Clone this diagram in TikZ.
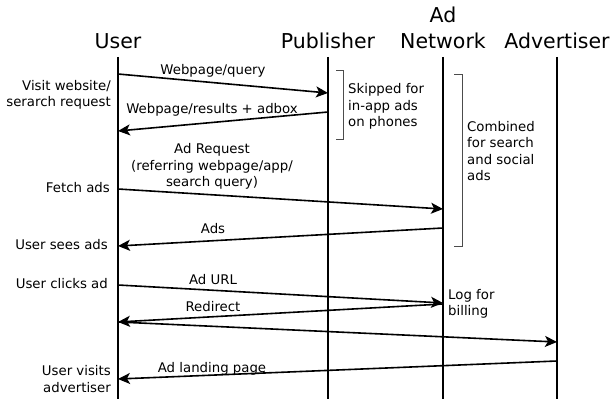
\documentclass[tikz,border=0pt]{standalone}
\usepackage{fontspec}
\setmainfont{DejaVu Sans}
\usetikzlibrary{arrows.meta}
\begin{document}
\begin{tikzpicture}[x=1pt,y=-1pt,
  head/.style={font=\fontsize{20.5}{26}\selectfont, inner sep=0pt, anchor=base},
  lbl/.style={font=\fontsize{13.3}{16.6}\selectfont, inner sep=0pt},
  life/.style={line width=1.8pt},
  msg/.style={line width=1.6pt, -{Stealth[length=12pt,width=11pt,inset=3pt]}},
  brk/.style={line width=0.9pt, draw=black!70}]
\useasboundingbox[fill=white] (0,0) rectangle (613,403);

% headers
\node[head] (hU) at (118,49) {User};
\node[head] (hP) at (328,49) {Publisher};
\node[head] (hA1) at (443,23) {Ad};
\node[head] (hA2) at (443,49) {Network};
\node[head] (hV) at (557,49) {Advertiser};

% lifelines
\coordinate (uT) at (118,57); \coordinate (uB) at (118,399);
\coordinate (pT) at (328,57); \coordinate (pB) at (328,399);
\coordinate (aT) at (443,57); \coordinate (aB) at (443,399);
\coordinate (vT) at (557,57); \coordinate (vB) at (557,399);
\draw[life] (uT) -- (uB);
\draw[life] (pT) -- (pB);
\draw[life] (aT) -- (aB);
\draw[life] (vT) -- (vB);

% message end points
\coordinate (u1) at (118,74);  \coordinate (p1) at (328,93);
\coordinate (p2) at (328,112); \coordinate (u2) at (118,131);
\coordinate (u3) at (118,189); \coordinate (a3) at (443,209);
\coordinate (a4) at (443,228); \coordinate (u4) at (118,246);
\coordinate (u5) at (118,285); \coordinate (a5) at (443,303);
\coordinate (a6) at (443,304); \coordinate (u6) at (118,322);
\coordinate (u7) at (118,322); \coordinate (v7) at (557,342);
\coordinate (v8) at (557,361); \coordinate (u8) at (118,379);

\draw[msg] (u1) -- (p1);
\draw[msg] (p2) -- (u2);
\draw[msg] (u3) -- (a3);
\draw[msg] (a4) -- (u4);
\draw[msg] (u5) -- (a5);
\draw[msg] (a6) -- (u6);
\draw[msg] (u7) -- (v7);
\draw[msg] (v8) -- (u8);

% message labels
\node[lbl, anchor=base] (m1) at (213,75) {Webpage/query};
\node[lbl, anchor=base] (m2) at (212,114) {Webpage/results + adbox};
\node[lbl, anchor=base, align=center] (m3) at (212,187) {Ad Request\\(referring webpage/app/\\search query)};
\node[lbl, anchor=base] (m4) at (213,234) {Ads};
\node[lbl, anchor=base] (m5) at (213,285) {Ad URL};
\node[lbl, anchor=base] (m6) at (213,312) {Redirect};
\node[lbl, anchor=base] (m8) at (212,372) {Ad landing page};

% left labels
\node[lbl, anchor=base east, align=right] (l1) at (111,107) {Visit website/\\serarch request};
\node[lbl, anchor=base east] (l3) at (110,193) {Fetch ads};
\node[lbl, anchor=base east] (l4) at (108,250) {User sees ads};
\node[lbl, anchor=base east] (l5) at (108,289) {User clicks ad};
\node[lbl, anchor=base east, align=right] (l8) at (111,392) {User visits\\advertiser};

% brackets
\coordinate (b1a) at (336,70); \coordinate (b1b) at (343,70);
\coordinate (b1c) at (343,139); \coordinate (b1d) at (336,139);
\draw[brk] (b1a) -- (b1b) -- (b1c) -- (b1d);
\coordinate (b2a) at (454,74); \coordinate (b2b) at (462,74);
\coordinate (b2c) at (462,246); \coordinate (b2d) at (454,246);
\draw[brk] (b2a) -- (b2b) -- (b2c) -- (b2d);

% notes
\node[lbl, anchor=base west, align=left] (n1) at (348,127) {Skipped for\\in-app ads\\on phones};
\node[lbl, anchor=base west, align=left] (n2) at (467,181) {Combined\\for search\\and social\\ads};
\node[lbl, anchor=base west, align=left] (n3) at (448,316) {Log for\\billing};
\end{tikzpicture}
\end{document}
